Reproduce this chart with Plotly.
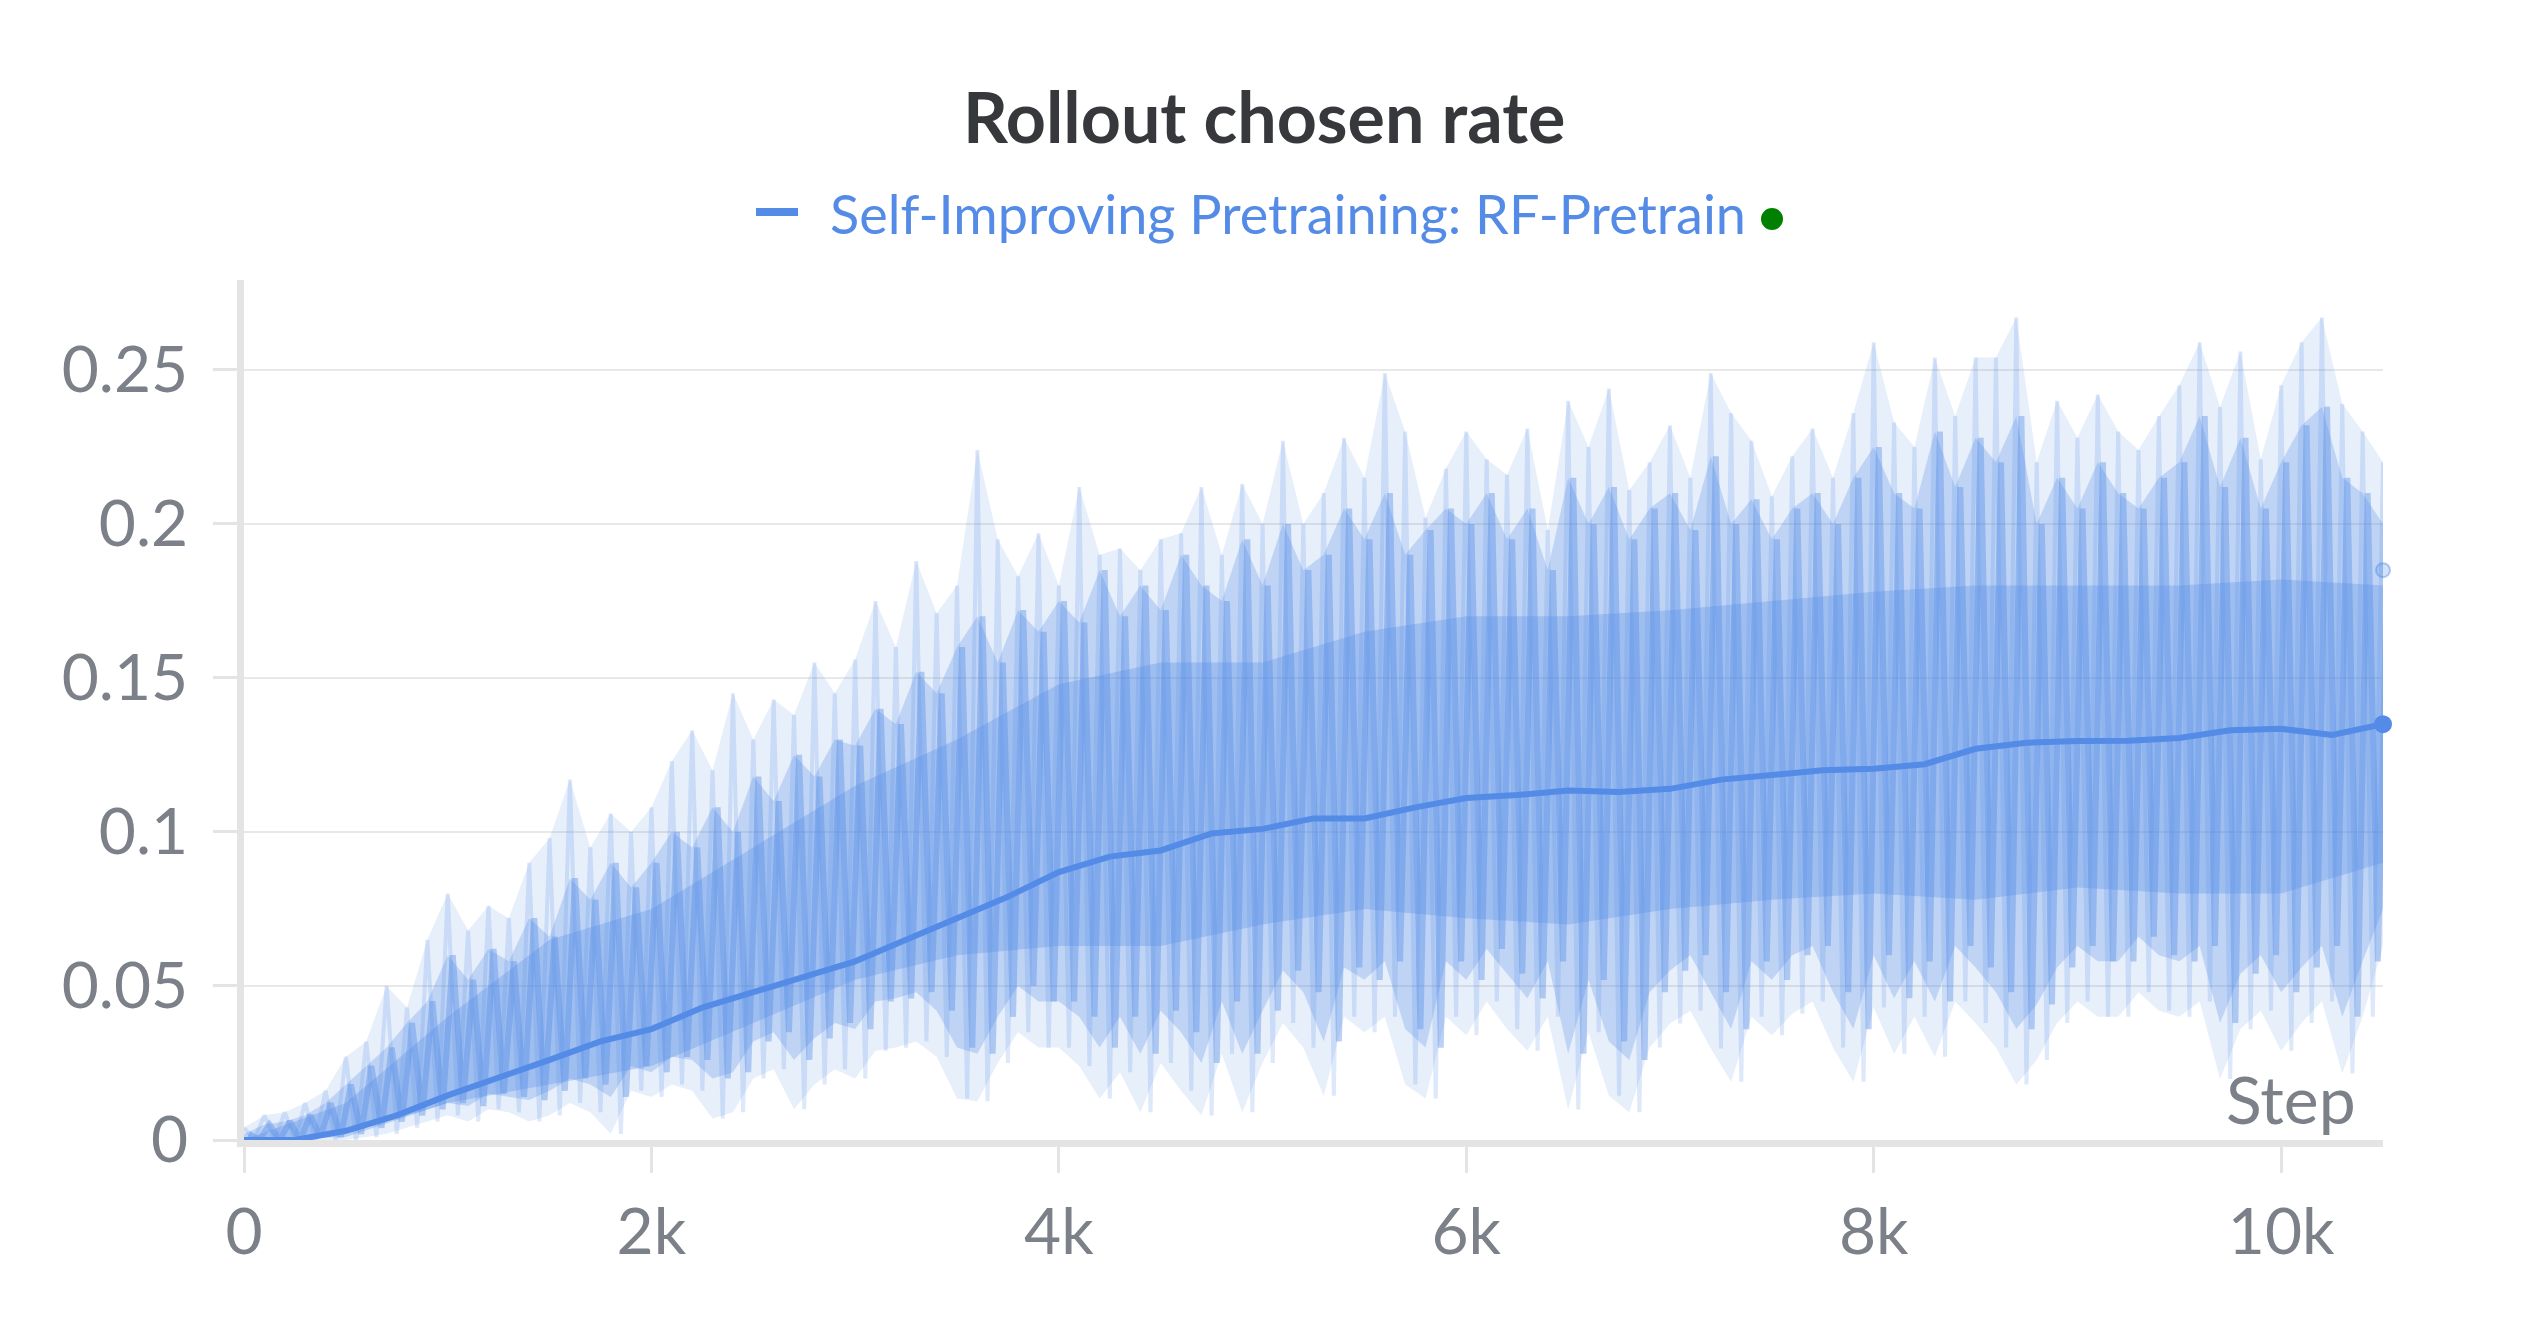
import plotly.graph_objects as go

# Rollout chosen rate, read off the W&B panel
# raw run values: highest / lowest spike seen in each 100-step bucket
bucket_steps = list(range(0, 10501, 100))
raw_hi = [
    0.004, 0.008, 0.009, 0.012, 0.016, 0.027, 0.032, 0.05, 0.043, 0.065,
    0.08, 0.068, 0.076, 0.072, 0.09, 0.098, 0.117, 0.095, 0.106, 0.1,
    0.108, 0.123, 0.133, 0.12, 0.145, 0.13, 0.143, 0.138, 0.155, 0.145,
    0.156, 0.175, 0.16, 0.188, 0.171, 0.18, 0.224, 0.195, 0.183, 0.197,
    0.18, 0.212, 0.19, 0.192, 0.185, 0.195, 0.197, 0.212, 0.19, 0.213,
    0.2, 0.227, 0.2, 0.21, 0.228, 0.215, 0.249, 0.23, 0.202, 0.218,
    0.23, 0.221, 0.216, 0.231, 0.198, 0.24, 0.225, 0.244, 0.211, 0.22,
    0.232, 0.215, 0.249, 0.236, 0.227, 0.209, 0.222, 0.231, 0.215, 0.236,
    0.259, 0.233, 0.225, 0.254, 0.235, 0.254, 0.254, 0.267, 0.22, 0.24,
    0.228, 0.242, 0.23, 0.224, 0.235, 0.245, 0.259, 0.238, 0.256, 0.221,
    0.245, 0.259, 0.267, 0.239, 0.23, 0.22,
]
raw_lo = [
    0.0, 0.0, 0.0, 0.0, 0.0, 0.0, 0.001, 0.002, 0.004, 0.006,
    0.008, 0.006, 0.01, 0.009, 0.006, 0.008, 0.012, 0.009, 0.002, 0.016,
    0.014, 0.018, 0.016, 0.007, 0.009, 0.02, 0.023, 0.01, 0.018, 0.023,
    0.02, 0.029, 0.03, 0.032, 0.027, 0.0135, 0.0126, 0.025, 0.035, 0.03,
    0.03, 0.024, 0.0135, 0.022, 0.009, 0.025, 0.016, 0.008, 0.028, 0.009,
    0.025, 0.038, 0.03, 0.0144, 0.04, 0.035, 0.04, 0.018, 0.0135, 0.04,
    0.034, 0.045, 0.036, 0.029, 0.04, 0.0099, 0.035, 0.0144, 0.009, 0.03,
    0.0378, 0.042, 0.0297, 0.0189, 0.04, 0.034, 0.041, 0.045, 0.03, 0.0189,
    0.043, 0.028, 0.04, 0.027, 0.045, 0.038, 0.03, 0.018, 0.026, 0.038,
    0.045, 0.04, 0.04, 0.048, 0.042, 0.04, 0.045, 0.0198, 0.036, 0.042,
    0.029, 0.038, 0.045, 0.0216, 0.04, 0.063,
]

# the stronger (less faded) spikes in each 100-step bucket
mid_hi = [
    0.002, 0.005, 0.006, 0.008, 0.012, 0.018, 0.024, 0.03, 0.038, 0.045,
    0.06, 0.052, 0.062, 0.058, 0.072, 0.066, 0.085, 0.078, 0.09, 0.082,
    0.09, 0.1, 0.095, 0.108, 0.1, 0.118, 0.11, 0.125, 0.118, 0.13,
    0.128, 0.14, 0.135, 0.152, 0.145, 0.16, 0.17, 0.155, 0.172, 0.165,
    0.175, 0.168, 0.185, 0.17, 0.18, 0.172, 0.19, 0.18, 0.175, 0.195,
    0.18, 0.2, 0.185, 0.19, 0.205, 0.195, 0.21, 0.19, 0.198, 0.205,
    0.2, 0.21, 0.195, 0.205, 0.185, 0.215, 0.2, 0.212, 0.195, 0.205,
    0.21, 0.198, 0.222, 0.2, 0.208, 0.195, 0.205, 0.21, 0.2, 0.215,
    0.225, 0.21, 0.205, 0.23, 0.212, 0.228, 0.22, 0.235, 0.2, 0.215,
    0.205, 0.22, 0.21, 0.205, 0.215, 0.22, 0.235, 0.212, 0.228, 0.205,
    0.22, 0.232, 0.238, 0.215, 0.21, 0.2,
]
mid_lo = [
    0.0, 0.0, 0.0, 0.001, 0.001, 0.002, 0.004, 0.006, 0.008, 0.01,
    0.012, 0.011, 0.015, 0.014, 0.013, 0.016, 0.02, 0.018, 0.014, 0.024,
    0.022, 0.027, 0.026, 0.02, 0.022, 0.032, 0.035, 0.026, 0.033, 0.038,
    0.036, 0.045, 0.046, 0.048, 0.042, 0.03, 0.028, 0.04, 0.05, 0.045,
    0.045, 0.04, 0.03, 0.04, 0.028, 0.042, 0.035, 0.025, 0.045, 0.028,
    0.042, 0.055, 0.048, 0.032, 0.056, 0.052, 0.058, 0.036, 0.03, 0.058,
    0.052, 0.062, 0.054, 0.046, 0.058, 0.028, 0.052, 0.032, 0.026, 0.048,
    0.055, 0.06, 0.048, 0.036, 0.058, 0.052, 0.06, 0.063, 0.048, 0.036,
    0.06, 0.046, 0.058, 0.045, 0.063, 0.056, 0.048, 0.036, 0.044, 0.056,
    0.063, 0.058, 0.058, 0.066, 0.06, 0.058, 0.063, 0.038, 0.054, 0.06,
    0.048, 0.056, 0.063, 0.04, 0.058, 0.075,
]

# where most of the raw points sit (every 500 steps)
core_steps = list(range(0, 10501, 500))
core_hi = [0.0, 0.012, 0.04, 0.065, 0.075, 0.095, 0.115, 0.13, 0.148, 0.155, 0.155,
           0.165, 0.17, 0.17, 0.172, 0.175, 0.178, 0.18, 0.18, 0.18, 0.182, 0.18]
core_lo = [0.0, 0.001, 0.012, 0.018, 0.024, 0.038, 0.052, 0.06, 0.063, 0.063, 0.07,
           0.075, 0.072, 0.07, 0.075, 0.078, 0.08, 0.078, 0.082, 0.08, 0.08, 0.09]

# smoothed curve (every 250 steps)
smooth_steps = list(range(0, 10501, 250))
smooth = [
    0.0, 0.0, 0.003, 0.008, 0.0145, 0.02, 0.026, 0.032, 0.036, 0.043,
    0.048, 0.053, 0.058, 0.065, 0.072, 0.079, 0.087, 0.092, 0.094, 0.0995,
    0.101, 0.1044, 0.1044, 0.108, 0.111, 0.112, 0.1135, 0.113, 0.114, 0.117,
    0.1185, 0.12, 0.1205, 0.122, 0.127, 0.129, 0.1295, 0.1296, 0.1305, 0.133,
    0.1335, 0.1315, 0.135,
]

last_step = 10500
last_raw = 0.185
last_smooth = 0.135

x_tickvals = [0, 2000, 4000, 6000, 8000, 10000]
x_ticktext = ["0", "2k", "4k", "6k", "8k", "10k"]
y_tickvals = [0, 0.05, 0.1, 0.15, 0.2, 0.25]
y_ticktext = ["0", "0.05", "0.1", "0.15", "0.2", "0.25"]

BLUE = "rgb(84,139,230)"
FONT = "Lato"
GREY = "#7b8089"


def band(xs, top, bottom, alpha):
    return go.Scatter(
        x=xs + xs[::-1], y=top + bottom[::-1],
        fill="toself", fillcolor=f"rgba(84,139,230,{alpha})",
        line={"width": 0}, mode="lines", hoverinfo="skip", showlegend=False)


def zigzag(top, bottom, offset, alpha, width):
    xs, ys = [], []
    for i, s in enumerate(bucket_steps):
        xs += [s + offset, s + offset + 50]
        ys += [top[i], bottom[i]]
    return go.Scatter(
        x=xs, y=ys, mode="lines",
        line={"color": f"rgba(84,139,230,{alpha})", "width": width},
        hoverinfo="skip", showlegend=False)


fig = go.Figure()

fig.add_trace(band(bucket_steps, raw_hi, raw_lo, 0.14))   # faint outer spikes
fig.add_trace(band(bucket_steps, mid_hi, mid_lo, 0.27))   # stronger spikes
fig.add_trace(band(core_steps, core_hi, core_lo, 0.3))    # dense middle
fig.add_trace(zigzag(raw_hi, raw_lo, 0, 0.2, 4))
fig.add_trace(zigzag(mid_hi, mid_lo, 25, 0.4, 6))

# smoothed line
fig.add_trace(go.Scatter(
    x=smooth_steps, y=smooth, mode="lines",
    line={"color": BLUE, "width": 6},
    showlegend=False))

# end points
fig.add_trace(go.Scatter(
    x=[last_step], y=[last_raw], mode="markers",
    marker={"size": 14, "color": "rgba(84,139,230,0.25)",
            "line": {"color": "rgba(84,139,230,0.45)", "width": 2}},
    cliponaxis=False, showlegend=False))
fig.add_trace(go.Scatter(
    x=[last_step], y=[last_smooth], mode="markers",
    marker={"size": 18, "color": BLUE},
    cliponaxis=False, showlegend=False))

fig.update_layout(
    width=2512, height=1312,
    margin={"l": 236, "r": 137, "t": 272, "b": 180},
    paper_bgcolor="white", plot_bgcolor="white",
    font={"family": FONT, "color": GREY, "size": 64},
    showlegend=False,
)

fig.update_xaxes(
    range=[0, 10500], tickvals=x_tickvals, ticktext=x_ticktext,
    showgrid=False, zeroline=False,
    showline=True, linecolor="#e4e4e4", linewidth=7,
    ticks="outside", ticklen=26, tickwidth=3, tickcolor="#e4e4e4",
    ticklabelstandoff=4,
    tickfont={"family": FONT, "size": 64, "color": GREY})
fig.update_yaxes(
    range=[0, 0.2792], tickvals=y_tickvals, ticktext=y_ticktext,
    showgrid=True, gridcolor="#e8e8e8", gridwidth=2, zeroline=False,
    showline=True, linecolor="#e4e4e4", linewidth=7,
    ticks="outside", ticklen=24, tickwidth=3, tickcolor="#e4e4e4",
    ticklabelstandoff=12,
    tickfont={"family": FONT, "size": 64, "color": GREY})

# title
fig.add_annotation(
    text="<b>Rollout chosen rate</b>", xref="paper", yref="paper",
    x=(1256 - 236) / 2139, y=(1132 - 108) / 860, xanchor="center", yanchor="middle",
    showarrow=False, font={"family": FONT, "size": 70, "color": "#36383c"})

# legend row
fig.add_shape(type="line", xref="paper", yref="paper",
              x0=(748 - 236) / 2139, x1=(790 - 236) / 2139,
              y0=(1132 - 204) / 860, y1=(1132 - 204) / 860,
              line={"color": BLUE, "width": 8})
fig.add_annotation(
    text="Self-Improving Pretraining: RF-Pretrain", xref="paper", yref="paper",
    x=(820 - 236) / 2139, y=(1132 - 206) / 860, xanchor="left", yanchor="middle",
    showarrow=False, font={"family": FONT, "size": 54, "color": BLUE})
fig.add_shape(type="circle", xref="paper", yref="paper",
              x0=(1753 - 236) / 2139, x1=(1775 - 236) / 2139,
              y0=(1132 - 200) / 860, y1=(1132 - 222) / 860,
              fillcolor="green", line={"width": 0})

# x axis name inside the plot
fig.add_annotation(
    text="Step", xref="paper", yref="paper",
    x=(2350 - 236) / 2139, y=(1132 - 1090) / 860, xanchor="right", yanchor="middle",
    showarrow=False, font={"family": FONT, "size": 66, "color": GREY})

fig.write_html("out.html")
